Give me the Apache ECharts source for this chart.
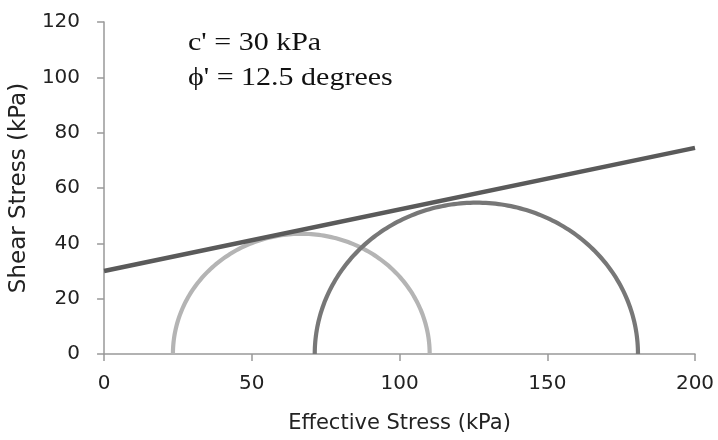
<!DOCTYPE html>
<html><head><meta charset="utf-8">
<script src="https://cdn.jsdelivr.net/npm/echarts@6/dist/echarts.min.js"></script>
<style>html,body{margin:0;padding:0;background:#fff}#c{width:718px;height:440px}</style>
</head><body><div id="c"></div>
<script>
// Mohr circles: [sigma3, sigma1] in kPa
const circleLight = [23.3, 110.2];
const circleDark = [71.3, 180.7];
// Failure envelope endpoints [effective stress, shear stress]
const envelope = [[0, 30], [200, 74.5]];
const xTicks = [0, 50, 100, 150, 200];
const yTicks = [0, 20, 40, 60, 80, 100, 120];
const annotation = ["c' = 30 kPa", "\u03d5' = 12.5 degrees"];

const chart = echarts.init(document.getElementById('c'));

function arcSeries(circle, color) {
  return {
    type: 'custom',
    data: [circle],
    z: 2,
    clip: false,
    renderItem: function (params, api) {
      const s3 = api.value(0), s1 = api.value(1);
      const c = (s1 + s3) / 2, r = (s1 - s3) / 2;
      const pts = [];
      const n = 160;
      for (let i = 0; i <= n; i++) {
        const t = Math.PI * i / n;
        pts.push(api.coord([c - r * Math.cos(t), r * Math.sin(t)]));
      }
      return {
        type: 'polyline',
        shape: { points: pts },
        style: { stroke: color, lineWidth: 4.2, fill: null }
      };
    }
  };
}

const FONT = '"DejaVu Sans", sans-serif';

chart.setOption({
  animation: false,
  grid: { left: 102, right: 23, top: 22, bottom: 86 },
  xAxis: {
    type: 'value', min: 0, max: 200, interval: 50,
    name: 'Effective Stress (kPa)', nameLocation: 'middle', nameGap: 59,
    nameTextStyle: { fontFamily: FONT, fontSize: 21, color: '#222' },
    axisLine: { lineStyle: { color: '#999', width: 1.5 } },
    axisTick: { show: true, length: 7, lineStyle: { color: '#999', width: 1.5 } },
    axisLabel: { margin: 20, fontFamily: FONT, fontSize: 20, color: '#222',
      formatter: v => xTicks.includes(v) ? String(v) : '' },
    splitLine: { show: false }
  },
  yAxis: {
    type: 'value', min: 0, max: 120, interval: 20,
    name: 'Shear Stress (kPa)', nameLocation: 'middle', nameGap: 63, nameRotate: 90,
    nameTextStyle: { fontFamily: FONT, fontSize: 23, color: '#222' },
    axisLine: { show: true, lineStyle: { color: '#999', width: 1.5 } },
    axisTick: { show: true, length: 7, lineStyle: { color: '#999', width: 1.5 } },
    axisLabel: { margin: 24, fontFamily: FONT, fontSize: 20, color: '#222',
      formatter: v => yTicks.includes(v) ? String(v) : '' },
    splitLine: { show: false }
  },
  graphic: [
    { type: 'text', x: 188, y: 43.5, scaleX: 1.2, originX: 0,
      style: { text: annotation[0], x: 0, y: 0, verticalAlign: 'middle', align: 'left',
        font: '25px "Liberation Serif", serif', fill: '#111' } },
    { type: 'text', x: 188, y: 78.5, scaleX: 1.2, originX: 0,
      style: { text: annotation[1], x: 0, y: 0, verticalAlign: 'middle', align: 'left',
        font: '25px "Liberation Serif", serif', fill: '#111' } }
  ],
  series: [
    arcSeries(circleLight, '#b4b4b4'),
    arcSeries(circleDark, '#777777'),
    {
      type: 'line', data: envelope, symbol: 'none', z: 3,
      lineStyle: { color: '#5a5a5a', width: 4.5 }
    }
  ]
});
</script>
</body></html>
